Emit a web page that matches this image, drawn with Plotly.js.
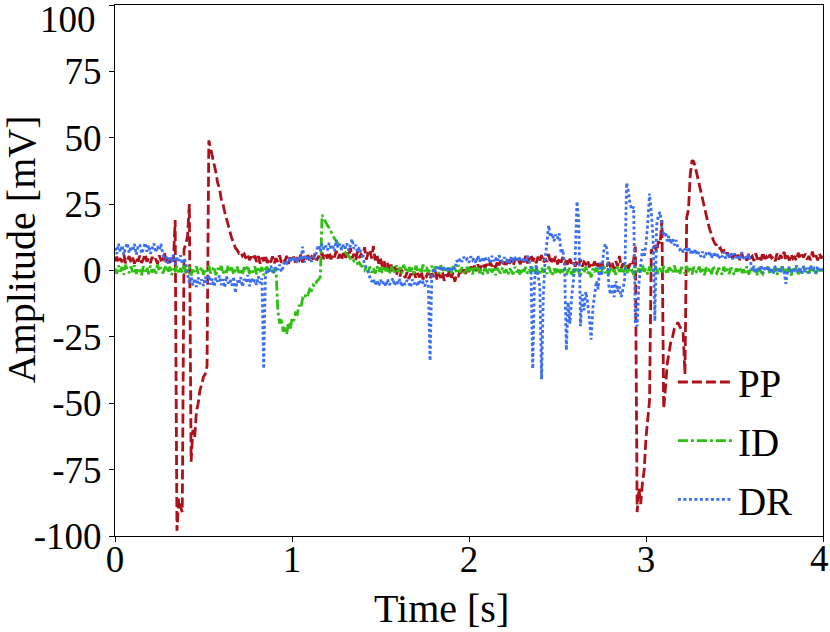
<!DOCTYPE html>
<html>
<head>
<meta charset="utf-8">
<script src="https://cdn.plot.ly/plotly-3.0.1.min.js"></script>
<style>
  body { margin: 0; background: #fff; }
  #myDiv { width: 830px; height: 632px; }
</style>
</head>
<body>
<div id="myDiv"></div>
<script>
// sampling: one value every 10 ms from 0 s to 4 s (401 samples per channel)
let t0 = 0
let dt = 0.01

// PP channel [mV], one row per 100 ms
let ppV = [
  3.5, 5.2, 2.8, 4.6, 3.1, 6, 2.7, 4.3, 5.4, 3.2,
  4.8, 2.6, 4.9, 3.4, 5.6, 2.9, 4.2, 6.2, 3.3, 4.7,
  2.8, 5.1, 3.6, 4.4, 2.5, 5.7, 3.9, 4.1, 6.5, 3,
  4.6, 2.9, 5.3, 3.4, 19, -98, -86, -89, -91, 8,
  10, 13, 25, -72, -60, -63, -53, -50, -45, -43,
  -40, -39, -36, 49, 46, 44, 40, 37, 33, 31,
  27, 25, 22, 19.5, 16.5, 14.5, 12, 10.5, 8.5, 7.8,
  6.5, 7, 5.5, 6.2, 4.5, 5.8, 3.9, 5.2, 4, 5.6,
  3.2, 5.4, 2.6, 4.8, 3.5, 5.9, 2.8, 4.4, 3.1, 5.3,
  2.7, 4.6, 3.3, 5.7, 2.9, 4.2, 3.6, 5.5, 2.5, 4.9,
  3.4, 5.2, 2.8, 4.5, 3.9, 6, 3, 4.7, 3.5, 5.8,
  3.6, 5.1, 4.2, 6.3, 3.8, 5.5, 4.4, 6.7, 4, 5.9,
  4.6, 7, 4.2, 6.1, 5, 7.4, 4.5, 6.2, 3.8, 6.6,
  4.2, 6.8, 5.1, 8.5, 4.6, 6.3, 3.9, 7.2, 4.8, 6,
  5.2, 8.8, 4.1, 6.5, 7.8, 4.5, 9.2, 3.8, 6, 2.5,
  4.5, 1.5, 3.6, 0.5, 2.8, -0.5, 2.2, -1, 1.5, -1.8,
  0.8, -2.2, 0.3, -1.5, -2.8, -0.6, -3.2, -1.2, -2.5, -0.4,
  -3, -1, -2.6, -0.3, -3.4, -1.4, -2.2, -0.5, -3.1, -1.1,
  -2.4, -0.2, -3.6, -1.3, -2.8, -0.5, -3.9, -1.6, -2.3, 0.2,
  -2.7, -0.8, -4.2, -1.5, -2, 0.1, -1.6, 0.4, -1.2, 0.8,
  -0.5, 1.4, 0.2, 1.8, -0.2, 2.3, 0.6, 1.5, 2.8, 0.9,
  2.4, 1.1, 3.2, 1.6, 2.7, 0.8, 3.5, 2, 3.9, 1.7,
  3.3, 2.1, 4.4, 2.6, 3.8, 1.9, 4.6, 2.9, 4, 2.4,
  4.8, 3.1, 5.5, 2.7, 4.3, 6, 3.4, 4.9, 2.8, 5.2,
  3.5, 5.8, 2.9, 4.6, 3.2, 6.2, 2.6, 4.1, 3.7, 5.4,
  2.3, 4.5, 3, 5.1, 2.2, 3.8, 1.7, 4.4, 2.6, 3.6,
  1.5, 3.9, 2.2, 4.1, 1.4, 3.2, 2.4, 3.9, 1.2, 3,
  1.8, 3.4, 0.9, 2.6, 1.5, 3.7, 0.6, 2.4, 1.9, 3.1,
  1.2, 2.8, 0.4, 3.5, 1.6, 5.5, 0.8, 2.6, 1.3, 2.2,
  0.7, 2.5, 1.6, 4, 9, -91, -82, -88, -80, -75,
  -63, -56, -49, 8, 6.5, 9.5, 7, 11, 10, 19,
  -52, -44, -35, -31, -27, -25, -22, -21, -19.5, -21,
  -22.5, -23.5, -39, 20, 23, 36, 41.5, 41, 38.5, 35.5,
  32, 29, 27, 24, 21, 18, 15.5, 13, 11.5, 10,
  9.5, 8, 8.5, 7, 7.5, 5.8, 6.8, 5, 6.4, 4.6,
  6.2, 4.3, 5.9, 3.9, 6.6, 4.5, 5.5, 3.7, 6.3, 4.8,
  5.4, 3.6, 6.5, 4.2, 5.7, 3.8, 6.9, 4.4, 5.2, 3.9,
  6.1, 4.7, 5.3, 3.5, 6.4, 4.1, 5.8, 4.6, 7, 4,
  5.6, 3.8, 6.2, 4.5, 5.1, 3.7, 6.7, 4.3, 5.9, 4.9,
  6.3, 4.1, 5.4, 3.9, 7.1, 4.4, 5.7, 3.8, 6.4, 4.6,
  5.5]

// ID channel [mV]
let idV = [
  0.8, -1.2, 1.9, -0.4, 1.3, -1.6, 2.2, 0.1, -0.9, 1.5,
  -0.6, 2, -1.3, 0.9, 0.2, -1.8, 1.6, -0.3, 1.1, -1.4,
  1.8, -0.7, 0.5, -1.5, 2.3, -0.2, 1.2, -1.1, 0.6, 1.9,
  -0.8, 1.4, -1.7, 0.7, -0.1, 1.7, -1.3, 0.9, -0.6, 2.1,
  -1, 0.4, 1.5, -1.9, 0.8, -0.5, 1.6, -1.2, 0.3, 1.3,
  -1.6, 0.6, -0.3, 1.8, -1.1, 0.2, 1.4, -1.8, 0.9, -0.4,
  1.7, -1.3, 0.5, -0.8, 2, -0.6, 1.1, -1.5, 0.4, 1.5,
  -0.9, 0.7, -1.7, 1.2, -0.2, 1.9, -1.2, 0.3, -0.7, 1.6,
  -1.4, 0.8, -0.5, 1.3, -1.8, 0.6, 1.4, -0.9, 0.2, -1.3,
  1, -0.3, -15, -20, -18, -23, -21, -24, -19.5, -22,
  -18, -19, -16, -16.5, -13, -14, -10.5, -11, -8.5, -9,
  -7, -7.5, -5.5, -6, -4, -3.5, -2.5, 21, 19.5, 18,
  17, 16, 14.5, 13.5, 12, 11, 10, 9, 8.5, 7.5,
  7, 6, 5.5, 4.5, 4.8, 3.5, 3.8, 2.6, 3, 1.8,
  1.5, 0.2, 1.2, -0.6, 1.4, -0.8, 0.9, -1.2, 1.6, -0.4,
  1.1, -0.9, 1.7, -0.2, 0.8, -1.3, 1.5, 0.1, -0.7, 1.9,
  -0.5, 1.2, -1.1, 2.1, 0.3, -0.8, 1.6, -0.4, 1, -1.2,
  1.8, 0, 0.9, -1, 2.2, -0.3, 1.3, -0.9, 0.6, 1.7,
  -0.6, 1.4, 0.2, -1.1, 1.9, 0.4, -0.7, 1.5, -0.2, 1.1,
  -1, 1.6, 0.3, -0.5, 2, -0.8, 1.2, 0, -1.2, 1.4,
  -0.4, 0.9, -1.5, 1.1, -0.2, 1.7, -1, 0.5, -1.6, 0.8,
  0.1, -1.3, 1.3, -0.7, 0.6, -1.8, 1, -0.3, -1.1, 1.2,
  -0.9, 0.4, -1.7, 0.8, -0.1, -1.4, 1.4, -0.6, 0.3, -1.9,
  0.9, -0.5, 1.3, -1.2, 0.2, -0.8, 1.6, -1.5, 0.5, -0.2,
  -1.6, 1, -0.7, 0.6, -1.3, 1.5, -0.4, -1.9, 0.7, -0.9,
  1.2, -1.4, 0.3, -0.6, 1.4, -1.7, 0.1, 0.9, -2.2, 0.4,
  -1.1, 1.3, -0.5, -1.8, 0.6, -0.9, 1.5, -1.2, 0.2, -2.6,
  0.8, -0.6, 1.1, -1.5, 0.4, -0.3, 1.7, -1, 0.5, -1.4,
  1.3, -0.8, 0.2, -1.6, 1.6, -0.5, 0.7, -1.2, 1.9, -0.2,
  -1.3, 1, 0.3, -1.7, 1.4, -0.6, 0.8, -1.1, 2, -0.4,
  0.6, -1.5, 1.5, -0.2, -0.9, 1.8, 0.1, -1.3, 1.1, -0.7,
  1.6, -0.3, -1.4, 1.2, 0.4, -1, 1.9, -0.6, 0.7, -1.6,
  1.3, 0, -1.2, 1.7, -0.5, 0.8, -1.5, 1.4, -0.1, -0.9,
  1.5, -0.7, 0.5, -1.8, 1.2, -0.2, 0.9, -1.4, 1.7, -0.4,
  -1.1, 1, 0.2, -1.6, 1.4, -0.8, 0.6, -1.3, 1.1, -0.5,
  -1.7, 0.8, -0.3, 1.3, -1.2, 0.4, -0.9, 1.6, -1.5, 0.2,
  1.1, -1, 0.5, -1.8, 1.4, -0.6, -1.3, 0.9, -0.2, 1.5,
  -1.4, 0.3, -0.8, 1.2, -1.6, 0.7, -0.4, 1.8, -1.1, 0.1,
  -0.7, 1.4, -1.9, 0.6, -0.3, 1.1, -1.4, 0.8, -1, 1.6,
  -0.5, 0.4, -1.6, 1.3, -0.8, 0.9, -1.3, 0.2, 1.2, -1,
  0.3]

// DR channel [mV]
let drV = [
  8.5, 6.2, 10.1, 7, 9.4, 5.9, 8.8, 10.3, 6.6, 9.1,
  7.3, 10, 6, 8.9, 9.8, 6.4, 8.1, 10.4, 7.1, 9.5,
  6.3, 8.7, 10.2, 6.8, 9.2, 7.6, 10, 6.1, 3.5, 5.2,
  2.6, 5.4, 3.1, 6, 2.3, 4.8, 3.6, 5.7, 2.4, 4.5,
  3, -1.5, -4.8, -2.2, -5.6, -3, -6.2, -2.6, -5.1, -3.4,
  -5.8, -2.4, -4.6, -1.8, -5.3, -3.1, -6, -2.7, -4.2, -1.9,
  -5.5, -3.3, -6.4, -2.1, -4.9, -3.6, -5.7, -2.3, -8.5, -3.8,
  -5.1, -2.5, -6.1, -3.2, -4.4, -1.7, -5.9, -2.8, -4.7, -3.5,
  -5.4, -2.2, -4.8, -3, -37, -1.5, 0.5, -1, 1.8, 0.2,
  -0.8, 1.5, 0.3, 2.2, -0.5, 1.2, 3.5, 2.8, 4.6, 3.1,
  5.2, 3.4, 4.8, 2.9, 5.5, 3.7, 9, 3, 5.8, 3.6,
  4.9, 3.3, 5.6, 4.2, 7.8, 9.5, 7.2, 10.1, 8, 9.3,
  7.6, 10.4, 8.2, 9.1, 7.3, 11.5, 8.5, 10, 7.8, 9.6,
  8.3, 10.2, 7.5, 9.4, 11.8, 8.1, 9.7, 7, 8.8, 6.5,
  5, 2.5, 1.2, -0.5, -2.6, -4.2, -3.1, -5.4, -3.7, -5.8,
  -3.5, -5.2, -4, -6, -3.3, -5.5, -4.4, -2.9, -5.7, -3.8,
  -5, -3.2, -6.1, -4.3, -5.4, -3.6, -4.8, -6.3, -3.4, -5.1,
  -4.1, -5.9, -3.5, -5.3, -4.5, -6, -3.8, -5.2, -34, -1.5,
  0.8, -0.4, 1.3, 0.1, 1.7, -0.2, 0.9, 1.5, 0.3, 1.1,
  -0.5, 1.6, 0.4, 3.8, 2.9, 4.6, 3.3, 5.1, 3.7, 4.4,
  3, 5.3, 3.9, 4.7, 2.8, 5.6, 3.4, 4.9, 3.1, 5.2,
  3.8, 4.4, 2.7, 5.5, 3.5, 4.8, 3.2, 5.7, 4.1, 3.3,
  5, 3.6, 4.5, 2.9, 5.4, 3.8, 4.6, 3.2, 5.3, 4,
  3.4, 4.9, 3, 5.6, 3.7, 1, -37, -4, 2.2, -3,
  -6, -41, -9, 4, 11, 17, 12.5, 14, 11, 13.5,
  12, 14, 6.5, 8, 2, -30, -12, -20, -10, -4,
  5, 26, 19, -21, -9, -15, -8, -12, -18, -26,
  -14, -9, -4, -7, 3, -2, 7, 10, 8, -6,
  -9, -5, -10, -4, -8, -6, -10, -7, -3, 33,
  30, 25, 23, 24, -20, -21, -5, 2, 8, 5,
  10, 18, 29, 22, 12, -19, 17, 21, 22, 16,
  13, 14.5, 11, 13, 10, 12, 9.5, 11.5, 8.5, 7.8,
  8.5, 6.8, 8.2, 7, 8.8, 6.5, 7.9, 6.1, 8, 5.7,
  6.9, 5.2, 7.1, 4.8, 6.3, 5.5, 7.2, 4.6, 6.6, 5,
  6.8, 4.4, 5.9, 5.1, 7, 4.5, 6.2, 4.9, 6.7, 4.2,
  6.4, 4.7, 5.8, 4.1, 6.9, 4.5, 5.6, 4.3, 6.1, 3.5,
  0, 1.7, -0.9, 1.3, -0.3, 2, -1.1, 1, 0.2, 1.6,
  -0.7, 1.1, -1.3, 1.8, -0.1, 0.7, -1, 1.5, -0.5, -5,
  -0.2, 1.4, -1.2, 0.9, 0.1, 1.9, -0.8, 1.2, -1.4, 1.7,
  -0.4, 1, -1.1, 2.1, 0, 0.8, -0.9, 1.5, 0.3, -0.6,
  0.9]

// tick labels (the two corner labels are placed by hand below, as in the original)
let xTickVals = [0, 1, 2, 3, 4]
let xTickText = ['0', '1', '2', '3', '']
let yTickVals = [-100, -75, -50, -25, 0, 25, 50, 75, 100]
let yTickText = ['-100', '-75', '-50', '-25', '0', '25', '50', '75', '']

let serif = 'Liberation Serif, Times New Roman, serif'

let tracePP = {
  y: ppV, x0: t0, dx: dt, name: 'PP', legendgroup: 'pp', mode: 'lines', type: 'scatter',
  line: {color: '#ad111c', width: 2.8, dash: '10px,4px'}
}
let traceID = {
  y: idV, x0: t0, dx: dt, name: 'ID', legendgroup: 'id', mode: 'lines', type: 'scatter',
  line: {color: '#2ec010', width: 2.8, dash: '10px,3px,3px,3px'}
}
let traceDR = {
  y: drV, x0: t0, dx: dt, name: 'DR', legendgroup: 'dr', mode: 'lines', type: 'scatter',
  line: {color: '#3b6ff2', width: 2.8, dash: '3px,2.5px'}
}

let axisStyle = {
  showline: true, mirror: true, linecolor: '#000', linewidth: 1,
  ticks: 'outside', ticklen: 5, tickwidth: 1, tickcolor: '#000',
  showgrid: false, zeroline: false,
  tickfont: {family: serif, size: 37, color: '#000'}
}

let layout = {
  width: 830, height: 632,
  margin: {l: 115, r: 7, t: 5, b: 96},
  paper_bgcolor: '#fff', plot_bgcolor: '#fff',
  font: {family: serif, color: '#000'},
  showlegend: true,
  legend: {
    x: 0.788, y: 0.35, xanchor: 'left', yanchor: 'top',
    traceorder: 'grouped', tracegroupgap: 5, itemwidth: 55,
    bgcolor: 'rgba(0,0,0,0)', borderwidth: 0,
    font: {family: serif, size: 39, color: '#000'}
  },
  xaxis: Object.assign({}, axisStyle, {range: [0, 4], tickmode: 'array',
    tickvals: xTickVals, ticktext: xTickText, ticklabelstandoff: -14}),
  yaxis: Object.assign({}, axisStyle, {range: [-100, 100], tickmode: 'array',
    tickvals: yTickVals, ticktext: yTickText}),
  annotations: [
    {text: '100', xref: 'paper', yref: 'paper', x: -0.024, y: 0.9727,
     xanchor: 'right', yanchor: 'middle', showarrow: false,
     font: {family: serif, size: 37, color: '#000'}},
    {text: '4', xref: 'paper', yref: 'paper', x: 0.995, y: -0.0433,
     xanchor: 'center', yanchor: 'middle', showarrow: false,
     font: {family: serif, size: 37, color: '#000'}},
    {text: 'Amplitude [mV]', xref: 'paper', yref: 'paper', x: -0.131, y: 0.5405,
     xanchor: 'center', yanchor: 'middle', textangle: -90, showarrow: false,
     font: {family: serif, size: 40, color: '#000'}},
    {text: 'Time [s]', xref: 'paper', yref: 'paper', x: 0.4605, y: -0.1356,
     xanchor: 'center', yanchor: 'middle', showarrow: false,
     font: {family: serif, size: 40, color: '#000'}}
  ]
}

Plotly.newPlot('myDiv', [tracePP, traceID, traceDR], layout, {displayModeBar: false, staticPlot: true})
</script>
</body>
</html>
